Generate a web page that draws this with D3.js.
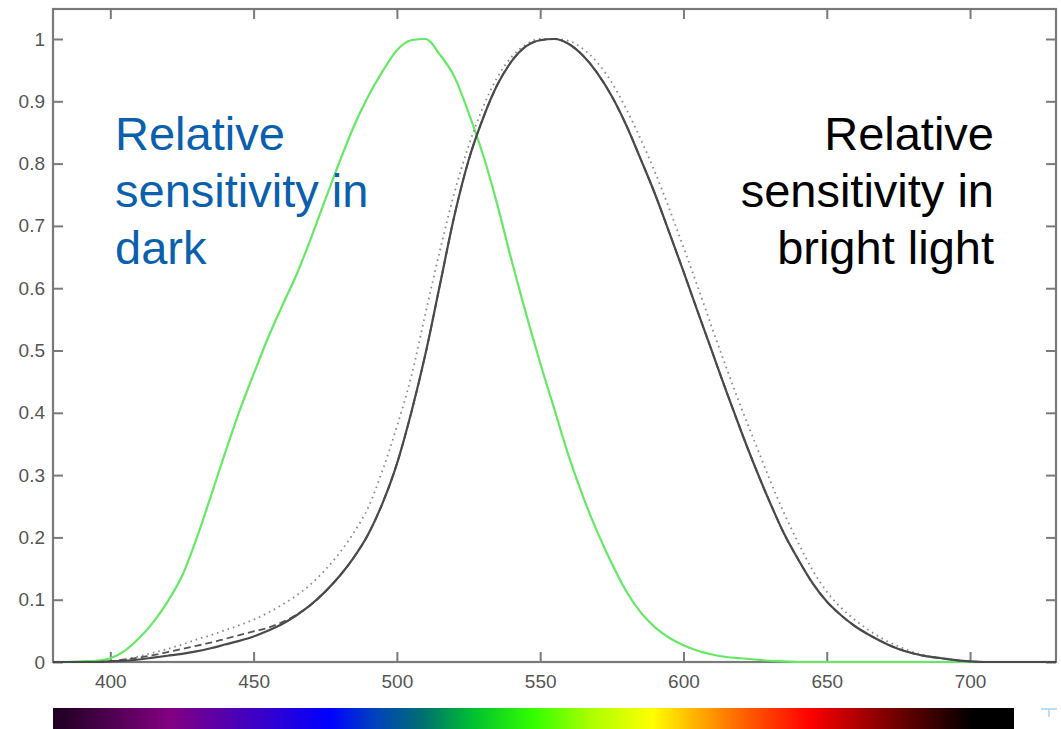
<!DOCTYPE html>
<html>
<head>
<meta charset="utf-8">
<script src="https://cdn.jsdelivr.net/npm/d3@7/dist/d3.min.js"></script>
<style>
  html, body { margin: 0; padding: 0; background: #fff; }
  svg { display: block; }
</style>
</head>
<body>
<svg id="chart" width="1061" height="729"></svg>
<script>
// ---- data (wavelength in nm, relative sensitivity) ----
const wavelengths = d3.range(380, 731, 5);

// scotopic (dark-adapted) sensitivity, green curve
const scotopic = [0,0,0.001,0.002,0.006,0.018,0.038,0.064,0.097,0.138,0.197,0.265,0.335,0.402,0.462,0.52,
  0.572,0.622,0.68,0.742,0.803,0.86,0.908,0.948,0.982,0.998,1.0,0.975,0.94,0.882,0.815,0.735,0.645,0.56,
  0.48,0.405,0.33,0.265,0.208,0.158,0.114,0.08,0.056,0.039,0.027,0.018,0.012,0.008,0.006,0.004,0.002,0.001,
  0,0,0,0,0,0,0,0,0,0,0,0,0,0,0,0,0,0,0];

// photopic (bright light) sensitivity, solid black curve
const photopic = [0,0,0,0,0.001,0.002,0.004,0.007,0.010,0.013,0.017,0.022,0.028,0.034,0.041,0.050,0.061,
  0.075,0.092,0.113,0.138,0.168,0.205,0.255,0.318,0.4,0.495,0.605,0.715,0.805,0.872,0.926,0.964,0.988,0.998,
  1.0,0.992,0.973,0.945,0.908,0.862,0.808,0.752,0.69,0.627,0.562,0.498,0.434,0.372,0.313,0.258,0.207,0.165,
  0.127,0.097,0.075,0.057,0.043,0.031,0.021,0.014,0.009,0.006,0.003,0.001,0,0,0,0,0,0];

// alternative photopic estimate, dotted curve
const photopicDotted = [0,0,0,0,0,0.004,0.009,0.015,0.021,0.028,0.036,0.043,0.051,0.059,0.068,0.079,0.092,
  0.107,0.125,0.148,0.175,0.208,0.248,0.308,0.378,0.458,0.56,0.66,0.752,0.828,0.89,0.938,0.971,0.991,1.0,1.0,
  0.997,0.984,0.962,0.93,0.888,0.84,0.787,0.728,0.666,0.602,0.536,0.472,0.41,0.352,0.294,0.24,0.192,0.148,
  0.113,0.087,0.067,0.05,0.036,0.025,0.016,0.01,0.006,0.003,0.001,0,0,0,0,0,0];

// second alternative, dashed curve (differs only at short wavelengths)
const photopicDashed = [0,0,0,0,0.001,0.004,0.007,0.011,0.016,0.021,0.026,0.031,0.037,0.043,0.049,0.055,0.064,
  0.076,0.092,0.113,0.138,0.168,0.205,0.255,0.318,0.4,0.495,0.605,0.715,0.805,0.872,0.926,0.964,0.988,0.998,
  1.0,0.992,0.973,0.945,0.908,0.862,0.808,0.752,0.69,0.627,0.562,0.498,0.434,0.372,0.313,0.258,0.207,0.165,
  0.127,0.097,0.075,0.057,0.043,0.031,0.021,0.014,0.009,0.006,0.003,0.001,0,0,0,0,0,0];

const xTicks = [400, 450, 500, 550, 600, 650, 700];
const yTicks = [0, 0.1, 0.2, 0.3, 0.4, 0.5, 0.6, 0.7, 0.8, 0.9, 1];
const yTickLabels = ["0", "0.1", "0.2", "0.3", "0.4", "0.5", "0.6", "0.7", "0.8", "0.9", "1"];

const leftLabel = ["Relative", "sensitivity in", "dark"];
const rightLabel = ["Relative", "sensitivity in", "bright light"];

// spectrum colour stops (position 0..1 along bar, colour)
const spectrumOffsets = [0, 0.122, 0.288, 0.333, 0.385, 0.437, 0.5, 0.559, 0.624, 0.663, 0.715, 0.788, 0.84, 0.889, 0.957, 1];
const spectrumColors = ["#1e0020", "#820082", "#0000ff", "#0040c0", "#007070", "#00c030", "#33ff00", "#aaff00",
  "#ffff00", "#ffbb00", "#ff6600", "#ff0000", "#aa0000", "#600000", "#000000", "#000000"];

// ---- layout ----
const svg = d3.select("#chart");
const L = 53, R = 1056, T = 9, B = 662;
const x = d3.scaleLinear().domain([380, 730]).range([L, R]);
const y = d3.scaleLinear().domain([0, 1]).range([B, 39]);
const axisColor = "#7a7a7a";
const tickLen = 10;

// frame
svg.append("rect").attr("x", L).attr("y", T).attr("width", R - L).attr("height", B - T)
  .attr("fill", "none").attr("stroke", axisColor).attr("stroke-width", 2.2);

// axes with inward ticks (bottom/left labelled, top/right mirrored)
const xAxisB = d3.axisBottom(x).tickValues(xTicks).tickSizeInner(-tickLen).tickSizeOuter(0).tickPadding(13);
const xAxisT = d3.axisTop(x).tickValues(xTicks).tickSizeInner(-tickLen).tickSizeOuter(0).tickFormat("");
const yAxisL = d3.axisLeft(y).tickValues(yTicks).tickSizeInner(-tickLen).tickSizeOuter(0).tickPadding(8)
  .tickFormat((d, i) => yTickLabels[i]);
const yAxisR = d3.axisRight(y).tickValues(yTicks).tickSizeInner(-tickLen).tickSizeOuter(0).tickFormat("");

function style(sel) {
  sel.select(".domain").remove();
  sel.selectAll(".tick line").attr("stroke", axisColor).attr("stroke-width", 2);
  sel.selectAll(".tick text").attr("fill", "#555")
    .style("font-family", "'Liberation Sans', Arial, sans-serif").style("font-size", "19px");
}
svg.append("g").attr("transform", `translate(0,${B})`).call(xAxisB).call(style);
svg.append("g").attr("transform", `translate(0,${T})`).call(xAxisT).call(style);
svg.append("g").attr("transform", `translate(${L},0)`).call(yAxisL).call(style);
svg.append("g").attr("transform", `translate(${R},0)`).call(yAxisR).call(style);

// lines
const mk = vals => d3.line()
  .x((d, i) => x(wavelengths[i]))
  .y(d => y(d))
  .curve(d3.curveMonotoneX)(vals);

const g = svg.append("g");
g.append("path").attr("d", mk(scotopic)).attr("fill", "none")
  .attr("stroke", "#66e866").attr("stroke-width", 2.2);
g.append("path").attr("d", mk(photopicDotted)).attr("fill", "none")
  .attr("stroke", "#8a8a8a").attr("stroke-width", 1.8).attr("stroke-dasharray", "1.6,4");
g.append("path").attr("d", mk(photopicDashed)).attr("fill", "none")
  .attr("stroke", "#555").attr("stroke-width", 1.8).attr("stroke-dasharray", "7,4");
g.append("path").attr("d", mk(photopic)).attr("fill", "none")
  .attr("stroke", "#4a4a4a").attr("stroke-width", 2.2);

// annotations
const ff = "'Liberation Sans', Arial, Helvetica, sans-serif";
svg.append("text").attr("x", 115).attr("y", 149.5)
  .attr("fill", "#0b60ae").style("font-family", ff).style("font-size", "47px")
  .selectAll("tspan").data(leftLabel).join("tspan")
  .attr("x", 115).attr("dy", (d, i) => i === 0 ? 0 : 57).text(d => d);
svg.append("text").attr("x", 994).attr("y", 149.5).attr("text-anchor", "end")
  .attr("fill", "#000").style("font-family", ff).style("font-size", "47px")
  .selectAll("tspan").data(rightLabel).join("tspan")
  .attr("x", 994).attr("dy", (d, i) => i === 0 ? 0 : 57).text(d => d);

// spectrum bar
const defs = svg.append("defs");
const grad = defs.append("linearGradient").attr("id", "spec").attr("x1", "0").attr("x2", "1").attr("y1", "0").attr("y2", "0");
grad.selectAll("stop").data(spectrumOffsets).join("stop")
  .attr("offset", d => d).attr("stop-color", (d, i) => spectrumColors[i]);
svg.append("rect").attr("x", L).attr("y", 708).attr("width", 1014 - L).attr("height", 21)
  .attr("fill", "url(#spec)");

// small stray mark at bottom right
svg.append("line").attr("x1", 1041).attr("x2", 1057).attr("y1", 709).attr("y2", 709)
  .attr("stroke", "#a9d0f2").attr("stroke-width", 1.5);
svg.append("line").attr("x1", 1049).attr("x2", 1049).attr("y1", 709).attr("y2", 717)
  .attr("stroke", "#a9d0f2").attr("stroke-width", 1.5);
</script>
</body>
</html>
